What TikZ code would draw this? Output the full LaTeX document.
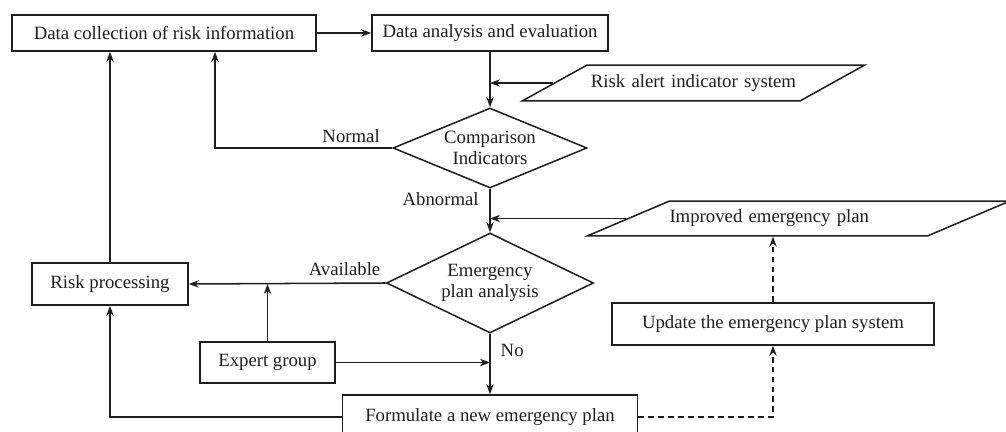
\documentclass[tikz,border=0pt]{standalone}
\usepackage{fontspec}
\setmainfont{Liberation Serif}
\usepackage{tikz}
\usetikzlibrary{shapes.geometric, arrows.meta, positioning, calc}
\definecolor{ink}{RGB}{30,30,30}

\begin{document}
\begin{tikzpicture}[x=0.03cm, y=-0.03cm,
  every node/.style={font=\fontsize{16}{18}\selectfont, text=ink},
  box/.style={draw=ink, line width=1.3pt, inner sep=0pt, align=center},
  dec/.style={draw=ink, line width=1.3pt, diamond, inner sep=0pt, align=center},
  data/.style={draw=ink, line width=1.3pt, trapezium, inner xsep=0pt,
               text height=11pt, text depth=4pt},
  lab/.style={inner sep=2pt},
  arr/.style={-{Stealth[length=3mm, width=2.2mm]}, line width=1.3pt, ink},
  dasharr/.style={arr, dash pattern=on 5pt off 3.5pt}
]
  \useasboundingbox (0,0) rectangle (1006,432);

  \node[box, minimum width=9.12cm, minimum height=1.08cm] (collect) at (164,33) {Data collection of risk information};
  \node[box, minimum width=7.08cm, minimum height=1.08cm] (analysis) at (490,33) {Data analysis and evaluation};
  \node[data, trapezium left angle=29, trapezium right angle=151, inner ysep=7.8pt,
        text width=6.39cm, align=center] (alert) at (693.5,83) {Risk alert indicator system};
  \node[dec, aspect=2.4, minimum width=5.82cm, minimum height=2.4cm] (cmp) at (490,148) {Comparison\\Indicators};
  \node[data, trapezium left angle=23, trapezium right angle=157, inner ysep=7.4pt,
        text width=7.74cm, align=left] (improved) at (798.5,218.5) {Improved emergency plan};
  \node[dec, aspect=2.07, minimum width=6.21cm, minimum height=3cm] (plan) at (490,283) {Emergency\\plan analysis};
  \node[box, minimum width=4.68cm, minimum height=1.26cm] (riskproc) at (110,284) {Risk processing};
  \node[box, minimum width=4.05cm, minimum height=1.23cm] (expert) at (267.5,362.5) {Expert group};
  \node[box, minimum width=9.66cm, minimum height=1.26cm] (update) at (773,324) {Update the emergency plan system};
  \node[box, minimum width=8.85cm, minimum height=1.32cm] (formulate) at (490,417) {Formulate a new emergency plan};

  % main flow
  \draw[arr] (collect) -- (analysis);
  \draw[arr] (analysis) -- (cmp);
  \draw[arr] (alert.west) -- (alert.west -| cmp.north);
  \draw[arr] (cmp.west) node[lab, above left=2pt and 8pt] {Normal} -| ([xshift=1.53cm]collect.south);
  \draw[arr] (cmp.south) node[lab, below left=0.5pt and 7pt] {Abnormal} -- (plan.north);
  \draw[arr] (improved.west) -- (improved.west -| plan.north);
  \draw[arr] (plan.west) node[lab, above left=4pt and 2pt] {Available} -- (riskproc.east);
  \draw[arr] (plan.south) node[lab, below right=6.5pt and 6.5pt] {No} -- (formulate.north);

  % feedback
  \draw[arr] (riskproc.north) -- (riskproc.north |- collect.south);
  \draw[arr] (expert.north) -- (expert.north |- riskproc.east);
  \draw[arr] (expert.east) -- (expert.east -| plan.south);
  \draw[arr] (formulate.west) -| (riskproc.south);
  \draw[dasharr] (formulate.east) -| (update.south);
  \draw[dasharr] (update.north) -- (update.north |- improved.south);
\end{tikzpicture}
\end{document}
